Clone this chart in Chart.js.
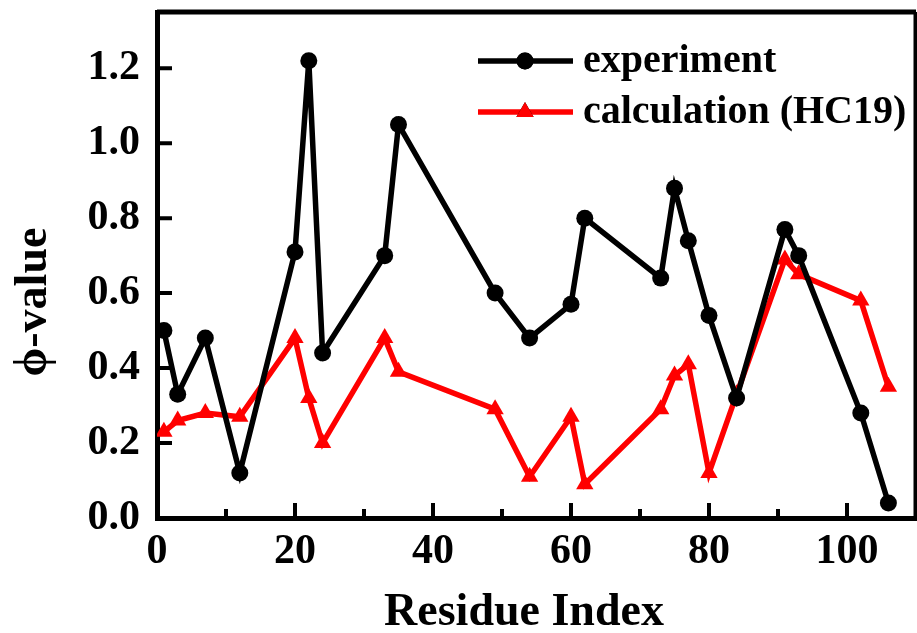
<!DOCTYPE html>
<html>
<head>
<meta charset="utf-8">
<script src="https://cdn.jsdelivr.net/npm/chart.js@4/dist/chart.umd.min.js"></script>
<style>
  html, body { margin: 0; padding: 0; background: #fff; overflow: hidden; }
  #wrap { width: 926px; height: 633px; }
</style>
</head>
<body>
<div id="wrap"><canvas id="phiChart" width="926" height="633"></canvas></div>
<script>
// residue positions and phi-values
const residues = [1, 3, 7, 12, 20, 22, 24, 33, 35, 49, 54, 60, 62, 73, 75, 77, 80, 84, 91, 93, 102, 106];
const expValues = [0.50, 0.33, 0.48, 0.12, 0.71, 1.22, 0.44, 0.70, 1.05, 0.60, 0.48, 0.57, 0.80, 0.64, 0.88, 0.74, 0.54, 0.32, 0.77, 0.70, 0.28, 0.04];
const calcValues = [0.23, 0.26, 0.28, 0.27, 0.48, 0.32, 0.20, 0.48, 0.39, 0.29, 0.11, 0.27, 0.09, 0.29, 0.38, 0.41, 0.12, 0.33, 0.69, 0.65, 0.58, 0.35];
const seriesNames = ['experiment', 'calculation (HC19)'];
const yTicks = [0, 0.2, 0.4, 0.6, 0.8, 1.0, 1.2];
const xTitle = 'Residue Index';
const yTitle = '\u03D5-value';

const FONT = '"Liberation Serif", "Times New Roman", serif';

const toPoints = (xs, ys) => xs.map((x, i) => ({x: x, y: ys[i]}));

// frame, inward ticks, axis titles and legend (Origin style)
const originLook = {
    id: 'originLook',
    afterDraw(chart) {
        const ctx = chart.ctx;
        const a = chart.chartArea;
        const xs = chart.scales.x, ys = chart.scales.y;
        ctx.save();
        ctx.strokeStyle = '#000';
        ctx.lineWidth = 5;
        ctx.beginPath();
        ctx.moveTo(a.left, a.top); ctx.lineTo(a.right, a.top);
        ctx.moveTo(a.right, a.top); ctx.lineTo(a.right, a.bottom);
        ctx.stroke();

        ctx.lineWidth = 4;
        ctx.beginPath();
        xs.ticks.forEach(t => {
            const px = xs.getPixelForValue(t.value);
            const len = t.value % 20 === 0 ? 15 : 9;
            ctx.moveTo(px, a.bottom); ctx.lineTo(px, a.bottom - len);
        });
        ys.ticks.forEach(t => {
            const py = ys.getPixelForValue(t.value);
            ctx.moveTo(a.left, py); ctx.lineTo(a.left + 15, py);
        });
        ctx.stroke();

        // axis titles
        ctx.fillStyle = '#000';
        ctx.font = 'bold 46px ' + FONT;
        ctx.textAlign = 'center';
        ctx.textBaseline = 'alphabetic';
        ctx.fillText(xTitle, 524, 625);
        ctx.translate(46, 302);
        ctx.rotate(-Math.PI / 2);
        ctx.fillText(yTitle, 0, 0);
        ctx.setTransform(1, 0, 0, 1, 0, 0);

        // legend
        ctx.font = 'bold 40px ' + FONT;
        ctx.textAlign = 'left';
        chart.data.datasets.forEach((ds, i) => {
            const ly = 61 + i * 51;
            ctx.strokeStyle = ds.borderColor;
            ctx.lineWidth = ds.borderWidth;
            ctx.beginPath();
            ctx.moveTo(478, ly); ctx.lineTo(573, ly);
            ctx.stroke();
            Chart.helpers.drawPoint(ctx, {
                pointStyle: ds.pointStyle, radius: ds.pointRadius, borderWidth: 0
            }, 525, ly);
            ctx.fillStyle = ds.pointBackgroundColor;
            ctx.fill();
            ctx.fillStyle = '#000';
            ctx.fillText(ds.label, 583, ly + 11);
        });
        ctx.restore();
    }
};

const tickFont = {family: FONT, size: 42, weight: 'bold'};

new Chart(document.getElementById('phiChart').getContext('2d'), {
    type: 'line',
    data: {
        datasets: [{
            label: seriesNames[0],
            data: toPoints(residues, expValues),
            borderColor: '#000000',
            backgroundColor: '#000000',
            pointBackgroundColor: '#000000',
            pointBorderWidth: 0,
            pointStyle: 'circle',
            pointRadius: 8.5,
            borderWidth: 5.5,
            tension: 0
        }, {
            label: seriesNames[1],
            data: toPoints(residues, calcValues),
            borderColor: '#ff0000',
            backgroundColor: '#ff0000',
            pointBackgroundColor: '#ff0000',
            pointBorderWidth: 0,
            pointStyle: 'triangle',
            pointRadius: 10,
            borderWidth: 5.5,
            tension: 0
        }]
    },
    options: {
        responsive: false,
        animation: false,
        devicePixelRatio: 1,
        layout: {padding: {top: 12, right: 3, left: 0, bottom: 0}},
        plugins: {
            legend: {display: false},
            tooltip: {enabled: false}
        },
        scales: {
            x: {
                type: 'linear',
                min: 0,
                max: 110,
                grid: {display: false, drawTicks: false},
                border: {display: true, color: '#000', width: 5},
                ticks: {
                    stepSize: 10,
                    color: '#000',
                    font: tickFont,
                    padding: 9,
                    maxRotation: 0,
                    autoSkip: false,
                    callback: v => (v % 20 === 0 && v <= 100) ? v : ''
                },
                afterFit: s => {
                    s.height = 115;
                    s.paddingLeft = 0; s.paddingRight = 0;
                }
            },
            y: {
                min: 0,
                max: 1.35,
                grid: {display: false, drawTicks: false},
                border: {display: true, color: '#000', width: 5},
                ticks: {
                    color: '#000',
                    font: tickFont,
                    padding: 17,
                    callback: v => v.toFixed(1)
                },
                afterBuildTicks: s => { s.ticks = yTicks.map(v => ({value: v})); },
                afterFit: s => {
                    s.width = 157;
                    s.paddingTop = 0; s.paddingBottom = 0;
                }
            }
        }
    },
    plugins: [originLook]
});
</script>
</body>
</html>
